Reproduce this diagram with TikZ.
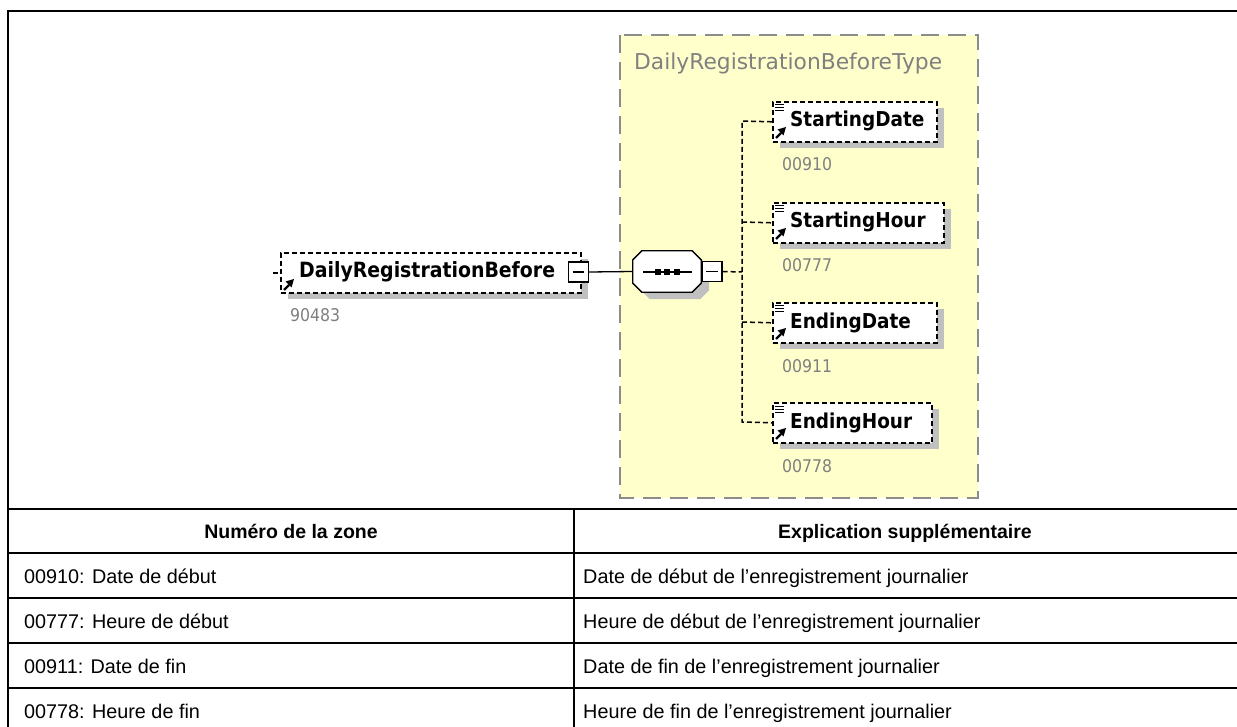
\documentclass[tikz,border=0pt]{standalone}
\usepackage{fontspec}
\setmainfont{Liberation Sans}
\newfontfamily\tah{DejaVu Sans Condensed}
\newfontfamily\tahw{DejaVu Sans}
\usetikzlibrary{arrows.meta,calc}
\definecolor{yel}{RGB}{255,255,204}
\definecolor{shd}{RGB}{192,192,192}
\definecolor{brd}{RGB}{140,140,140}
\definecolor{gtxt}{RGB}{128,128,128}
\begin{document}
\begin{tikzpicture}[x=1pt,y=-1pt,
  elbox/.style={rectangle, draw=black, fill=white, line width=1.6pt, dash pattern=on 5pt off 3pt, minimum height=40pt, inner sep=0pt, anchor=north west},
  eltext/.style={font=\tah\bfseries\fontsize{20.5}{24}\selectfont, anchor=base west, inner sep=0pt},
  numtext/.style={font=\tah\fontsize{17.5}{20}\selectfont, text=gtxt, anchor=base west, inner sep=0pt},
  titletext/.style={font=\tahw\fontsize{21.8}{25}\selectfont, text=gtxt, anchor=base west, inner sep=0pt},
  minusbox/.style={rectangle, draw=black, fill=white, line width=1.3pt, minimum width=20pt, minimum height=20pt, inner sep=0pt},
  tree/.style={draw=black, line width=1.5pt, dash pattern=on 5pt off 3pt},
  solidc/.style={draw=black, line width=1.3pt},
  grid/.style={draw=black, line width=2pt},
  th/.style={font=\bfseries\fontsize{19.5}{23}\selectfont, anchor=base, inner sep=0pt},
  td/.style={font=\fontsize{19.8}{23}\selectfont, anchor=base west, inner sep=0pt},
  shadowfill/.style={fill=shd},
  icon/.style={draw=black, line width=1.2pt},
  arrline/.style={draw=black, line width=2.2pt},
  arrhead/.style={fill=black}
]
\useasboundingbox (0,0) rectangle (1237,727);
\fill[white] (0,0) rectangle (1237,727);

% yellow type region
\path[fill=yel, draw=brd, line width=2pt, dash pattern=on 18pt off 9pt] (620,35) rectangle (978,498);
\node[titletext] (ttl) at (634,70) {DailyRegistrationBeforeType};

% root element
\fill[shadowfill] (288,259) rectangle (588,299);
\node[elbox, minimum width=300pt] (rb) at (280,252) {};
\node[eltext, font=\tah\bfseries\fontsize{21}{24}\selectfont] (rbt) at (299,278) {DailyRegistrationBefore};
\node[numtext] (rbn) at (290,322) {90483};
\draw[tree] ($(rb.west)+(-7,0)$) coordinate (rstub) -- (rb.west);
\draw[arrline] (284,290) -- (289,285);
\fill[arrhead] (294,279) -- (285.5,281.5) -- (291.5,287.5) -- cycle;
\node[minusbox] (rm) at (578.5,272) {};
\draw[icon] ($(rm.west)+(5,0)$) -- ($(rm.east)+(-5,0)$);

% sequence compositor
\node[rectangle, minimum width=68pt, minimum height=41pt, inner sep=0pt] (seq) at (667,271.5) {};
\fill[shadowfill] ($(seq.north west)+(17,7)$) -- ($(seq.north east)+(-1,7)$) -- ($(seq.north east)+(8,16)$) -- ($(seq.south east)+(8,-2)$) -- ($(seq.south east)+(-1,7)$) -- ($(seq.south west)+(17,7)$) -- ($(seq.south west)+(8,-2)$) -- ($(seq.north west)+(8,16)$) -- cycle;
\draw[solidc, fill=white] ($(seq.north west)+(9,0)$) -- ($(seq.north east)+(-9,0)$) -- ($(seq.north east)+(0,9)$) -- ($(seq.south east)+(0,-9)$) -- ($(seq.south east)+(-9,0)$) -- ($(seq.south west)+(9,0)$) -- ($(seq.south west)+(0,-9)$) -- ($(seq.north west)+(0,9)$) -- cycle;
\draw[solidc] (643,272) -- (692,272);
\foreach \cx in {658,667,677} \fill[black] (\cx-2.8,272-2.8) rectangle (\cx+2.8,272+2.8);
\node[minusbox] (sm) at (712,271.5) {};
\draw[icon] ($(sm.west)+(5,0)$) -- ($(sm.east)+(-5,0)$);
\draw[solidc] (rm.east) -- (seq.west);

% tree junction
\coordinate (jn) at (742,272);
\draw[tree] (sm.east) -- (jn);

% child elements
\foreach \nm/\top/\w/\txt/\num in {sd/101/164/StartingDate/00910, sh/202/171/StartingHour/00777, ed/302/164/EndingDate/00911, eh/402/159/EndingHour/00778}{
  \fill[shadowfill] (772+8,\top+7) rectangle (772+\w+8,\top+47);
  \node[elbox, minimum width=\w pt] (\nm) at (772,\top) {};
  \node[eltext] (\nm t) at (790,\top+26) {\txt};
  \node[numtext] (\nm n) at (782,\top+70) {\num};
  \draw[icon, line width=1pt] (775,\top+4) -- (784,\top+4) (775,\top+7) -- (784,\top+7) (775,\top+10) -- (784,\top+10);
  \draw[arrline] (776,\top+37) -- (781,\top+32);
  \fill[arrhead] (786,\top+26) -- (777.5,\top+28.5) -- (783.5,\top+34.5) -- cycle;
}
\coordinate (tt) at (742,121);
\coordinate (tb) at (742,422);
\draw[tree] (sd.west) -- (tt) -- (tb) -- (eh.west);
\draw[tree] (742,222) -- (sh.west);
\draw[tree] (742,322) -- (ed.west);

% frame and table
\draw[grid] (8,727) -- (8,11) -- (1237,11);
\draw[grid] (8,509) -- (1237,509);
\draw[grid] (8,553) -- (1237,553);
\draw[grid] (8,598) -- (1237,598);
\draw[grid] (8,643) -- (1237,643);
\draw[grid] (8,688) -- (1237,688);
\draw[grid] (574,509) -- (574,727);

\node[th] (h1) at (291,538) {Numéro de la zone};
\node[th] (h2) at (905,538) {Explication supplémentaire};
\node[td] (a1) at (24,583) {00910: Date de début};
\node[td] (b1) at (583,583) {Date de début de l’enregistrement journalier};
\node[td] (a2) at (24,628) {00777: Heure de début};
\node[td] (b2) at (583,628) {Heure de début de l’enregistrement journalier};
\node[td] (a3) at (24,673) {00911: Date de fin};
\node[td] (b3) at (583,673) {Date de fin de l’enregistrement journalier};
\node[td] (a4) at (24,718) {00778: Heure de fin};
\node[td] (b4) at (583,718) {Heure de fin de l’enregistrement journalier};
\end{tikzpicture}
\end{document}
